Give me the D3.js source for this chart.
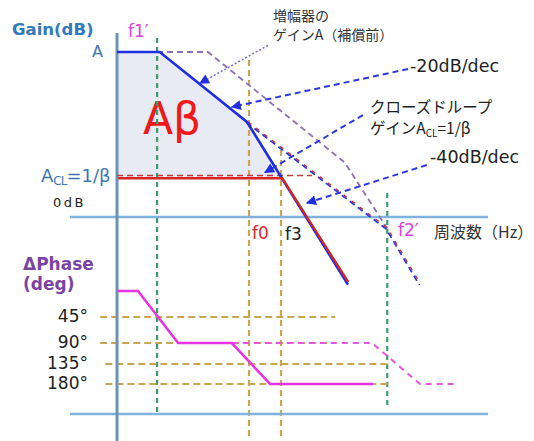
<!DOCTYPE html>
<html lang="ja">
<head>
<meta charset="utf-8">
<title>Aβ と位相余裕</title>
<script src="https://d3js.org/d3.v7.min.js"></script>
<style>
  body { margin: 0; background: #fff; }
  text { font-family: "DejaVu Sans", Verdana, sans-serif; }
  .jp { font-family: "Noto Sans CJK JP", sans-serif; }
</style>
</head>
<body>
<script>
// ---- data (frequency in Hz, gain in dB, phase in deg) ----
var gainBefore = [[1, 100], [165, 100], [3.6e5, 33], [3.9e6, -7]];      // 増幅器のゲインA（補償前）
var openLoop   = [[1, 100], [11, 100], [1480, 57.6], [4.3e5, -41]];     // 補償後 A
var closedLoop = [[1, 23.5], [1e4, 23.5], [4.1e5, -39.5]];              // 1/β
var aclExt     = [[1, 23.5], [5.7e4, 23.5]];
var shifted    = [[1480, 57.6], [3.8e6, -7], [2.45e7, -41]];
var shadeTop   = [[1, 100], [11, 100], [1480, 57.6], [1e4, 23.5]];
var aclLevel   = 23.5;

var phaseComp   = [[1, 0], [3.25, 0], [31, 90], [630, 90], [5400, 180], [1.75e6, 180]];
var phaseBefore = [[630, 90], [1.66e6, 90], [2.45e7, 180], [2.1e8, 180]];
var phaseTicks  = [45, 90, 135, 180];
var tickLabels  = ["45°", "90°", "135°", "180°"];
var gridStart   = [0.39, 0.39, 0.52, 0.52];
var gridEnd     = [2.1e5, 2.1e5, 4.5e6, 4.5e6];

var markerNames = ["f1′", "f0", "f3", "f2′"];
var markerFreqs = [9.5, 1660, 1e4, 3.9e6];

// arrows: [tail freq, tail dB, tip freq, tip dB]
var arrowsData = [
  [4800, 104, 105, 81],
  [1.26e7, 89.7, 630, 66.7],
  [1e6, 61.8, 4070, 27],
  [3.6e7, 31.5, 43000, 8.5]
];

var w = 534, h = 441;
var svg = d3.select("body").append("svg").attr("width", w).attr("height", h);

var x  = d3.scaleLog().domain([1, 1e9]).range([117, 486]);
var yG = d3.scaleLinear().domain([0, 100]).range([217, 52]);
var yP = d3.scaleLinear().domain([0, 45, 90, 135, 180]).range([291, 317, 343, 364, 384]);

var lineG = d3.line().x(function (d) { return x(d[0]); }).y(function (d) { return yG(d[1]); });
var lineP = d3.line().x(function (d) { return x(d[0]); }).y(function (d) { return yP(d[1]); });

var defs = svg.append("defs");
defs.append("marker").attr("id", "tri")
  .attr("viewBox", "0 0 10 10").attr("refX", 9).attr("refY", 5)
  .attr("markerWidth", 11).attr("markerHeight", 10)
  .attr("markerUnits", "userSpaceOnUse").attr("orient", "auto")
  .append("path").attr("d", "M0,0L10,5L0,10z").attr("fill", "#1f2fe0");

// shaded Aβ area
svg.append("path").datum(shadeTop)
  .attr("d", d3.area().x(function (d) { return x(d[0]); })
    .y0(yG(aclLevel)).y1(function (d) { return yG(d[1]); }))
  .attr("fill", "#e8eaf4");

svg.append("text").attr("x", 143).attr("y", 134).attr("font-size", 44)
  .attr("font-family", "Liberation Sans, Arial, sans-serif")
  .attr("fill", "#f01818").text("Aβ");

// vertical frequency markers
var vColors = ["#3f9a6e", "#c9a653", "#c9a653", "#3f9a6e"];
var vTop = [38, 60, 150, 193], vBot = [413, 436, 436, 407];
var vDash = ["5,4", "6,4", "6,4", "5,4"];
markerFreqs.forEach(function (f, i) {
  svg.append("line").attr("x1", x(f)).attr("x2", x(f))
    .attr("y1", vTop[i]).attr("y2", vBot[i])
    .attr("stroke", vColors[i]).attr("stroke-width", 2.2)
    .attr("stroke-dasharray", vDash[i]);
});

// phase grid
phaseTicks.forEach(function (p, i) {
  svg.append("line").attr("x1", x(gridStart[i])).attr("x2", x(gridEnd[i]))
    .attr("y1", yP(p)).attr("y2", yP(p))
    .attr("stroke", "#c9a653").attr("stroke-width", 2).attr("stroke-dasharray", "7,4");
  svg.append("text").attr("x", 88).attr("y", yP(p) + 5)
    .attr("text-anchor", "end").attr("font-size", 17).attr("fill", "#222")
    .text(tickLabels[i]);
});

// axes
svg.append("line").attr("x1", 70).attr("x2", 488).attr("y1", yG(0)).attr("y2", yG(0))
  .attr("stroke", "#7fb2dc").attr("stroke-width", 2.5);
svg.append("line").attr("x1", 70).attr("x2", 488).attr("y1", 414).attr("y2", 414)
  .attr("stroke", "#7fb2dc").attr("stroke-width", 2.5);
svg.append("line").attr("x1", x(1)).attr("x2", x(1)).attr("y1", 33).attr("y2", h)
  .attr("stroke", "#6d93b8").attr("stroke-width", 3);

// gain curves
svg.append("path").datum(gainBefore).attr("d", lineG).attr("fill", "none")
  .attr("stroke", "#8f70b8").attr("stroke-width", 1.8).attr("stroke-dasharray", "6,4");
svg.append("path").datum(shifted).attr("d", lineG).attr("fill", "none")
  .attr("transform", "translate(-0.5,0.5)")
  .attr("stroke", "#2a3ae0").attr("stroke-width", 1.8).attr("stroke-dasharray", "6,4");
svg.append("path").datum(shifted).attr("d", lineG).attr("fill", "none")
  .attr("transform", "translate(0.5,-0.5)")
  .attr("stroke", "#c83434").attr("stroke-width", 1.4).attr("stroke-dasharray", "4,6")
  .attr("stroke-dashoffset", -1);
svg.append("path").datum(aclExt).attr("d", lineG).attr("fill", "none")
  .attr("transform", "translate(0,-2.8)")
  .attr("stroke", "#c83a3a").attr("stroke-width", 1.6).attr("stroke-dasharray", "6,4");
svg.append("path").datum(openLoop).attr("d", lineG).attr("fill", "none")
  .attr("stroke", "#1f2fe0").attr("stroke-width", 2.6);
svg.append("path").datum(closedLoop).attr("d", lineG).attr("fill", "none")
  .attr("transform", "translate(1.2,0)")
  .attr("stroke", "#d42424").attr("stroke-width", 2.4);

// arrows
arrowsData.forEach(function (a, i) {
  svg.append("line")
    .attr("x1", x(a[0])).attr("y1", yG(a[1])).attr("x2", x(a[2])).attr("y2", yG(a[3]))
    .attr("stroke", i === 0 ? "#6a66dd" : "#2a3ae0")
    .attr("stroke-width", i === 0 ? 1.4 : 2)
    .attr("stroke-dasharray", i === 0 ? "2,2" : "6,4")
    .attr("marker-end", "url(#tri)");
});

// phase curves
svg.append("path").datum(phaseBefore).attr("d", lineP).attr("fill", "none")
  .attr("stroke", "#e455e0").attr("stroke-width", 2).attr("stroke-dasharray", "6,5");
svg.append("path").datum(phaseComp).attr("d", lineP).attr("fill", "none")
  .attr("stroke", "#e833e0").attr("stroke-width", 2.6);

// labels
svg.append("text").attr("x", 12).attr("y", 35).attr("font-size", 16.5)
  .attr("font-weight", "bold").attr("fill", "#3279be").text("Gain(dB)");
svg.append("text").attr("x", 103).attr("y", 57).attr("text-anchor", "end")
  .attr("font-size", 16).attr("fill", "#3d78b4").text("A");
var acl = svg.append("text").attr("x", 41).attr("y", 182).attr("font-size", 18).attr("fill", "#3d78b4");
acl.append("tspan").text("A");
acl.append("tspan").attr("font-size", 12).attr("dy", 3).attr("letter-spacing", -1).text("CL");
acl.append("tspan").attr("dy", -3).text("=1/β");
svg.append("text").attr("x", 53).attr("y", 207).attr("font-size", 13)
  .attr("letter-spacing", 2.5).attr("fill", "#222").text("0dB");

var mColors = ["#e040e0", "#e8282a", "#222", "#e040e0"];
var mX = [128, 252, 285, 398], mY = [37, 239, 240, 236];
markerNames.forEach(function (n, i) {
  svg.append("text").attr("x", mX[i]).attr("y", mY[i]).attr("font-size", 17)
    .attr("fill", mColors[i]).text(n);
});
svg.append("text").attr("class", "jp").attr("x", 434).attr("y", 238)
  .attr("font-size", 16).attr("fill", "#333").text("周波数（Hz）");

svg.append("text").attr("class", "jp").attr("x", 273).attr("y", 21)
  .attr("font-size", 14).attr("fill", "#333").text("増幅器の");
svg.append("text").attr("class", "jp").attr("x", 273).attr("y", 40)
  .attr("font-size", 14).attr("fill", "#333").text("ゲインA（補償前）");
svg.append("text").attr("x", 410).attr("y", 72).attr("font-size", 17.5)
  .attr("fill", "#222").text("-20dB/dec");
svg.append("text").attr("class", "jp").attr("x", 370).attr("y", 113)
  .attr("font-size", 15.5).attr("fill", "#222").text("クローズドループ");
var cl = svg.append("text").attr("class", "jp").attr("x", 370).attr("y", 134)
  .attr("font-size", 15.5).attr("fill", "#222");
cl.append("tspan").text("ゲインA");
cl.append("tspan").attr("font-size", 10).attr("dy", 3).text("CL");
cl.append("tspan").attr("dy", -3).text("=1/β");
svg.append("text").attr("x", 430).attr("y", 163).attr("font-size", 17.5)
  .attr("fill", "#222").text("-40dB/dec");

svg.append("text").attr("x", 23).attr("y", 270).attr("font-size", 17)
  .attr("font-weight", "bold").attr("fill", "#7a44a6").text("ΔPhase");
svg.append("text").attr("x", 23).attr("y", 290).attr("font-size", 17)
  .attr("font-weight", "bold").attr("fill", "#7a44a6").text("(deg)");
</script>
</body>
</html>
